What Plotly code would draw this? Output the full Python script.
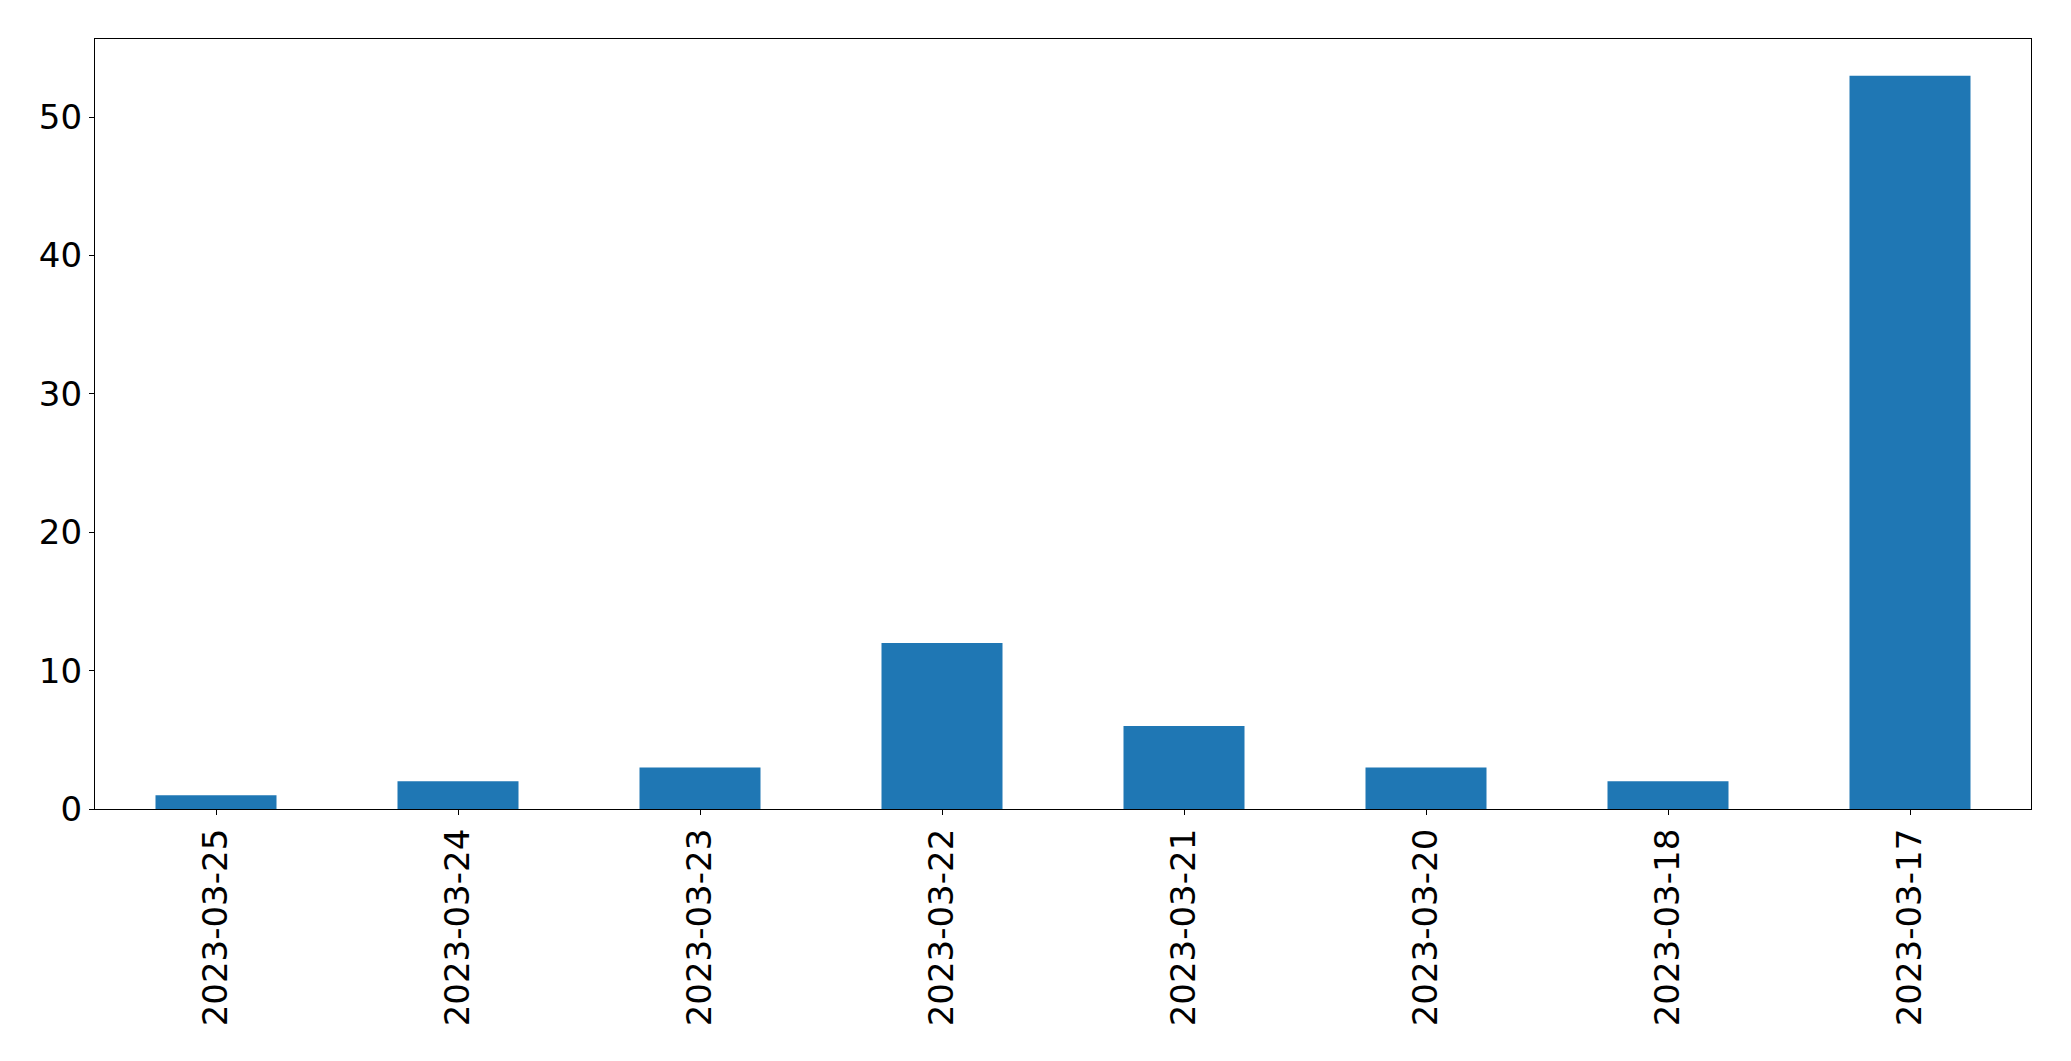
import plotly.graph_objects as go

dates = ["2023-03-25", "2023-03-24", "2023-03-23", "2023-03-22",
         "2023-03-21", "2023-03-20", "2023-03-18", "2023-03-17"]
counts = [1, 2, 3, 12, 6, 3, 2, 53]

fig = go.Figure(go.Bar(x=dates, y=counts, width=0.5,
                       marker=dict(color="#1f77b4", line=dict(width=0))))

font = dict(family="DejaVu Sans", size=34, color="black")
fig.update_layout(
    width=2055, height=1045,
    margin=dict(l=87, r=32, t=31, b=244),
    plot_bgcolor="white", paper_bgcolor="white",
    font=font, showlegend=False,
    xaxis=dict(type="category", range=[-0.5, 7.5], tickangle=-90,
               showline=True, linecolor="black", linewidth=1.3, mirror=True,
               ticks="outside", ticklen=5, tickcolor="black", tickwidth=1.3,
               showgrid=False, zeroline=False, tickfont=font),
    yaxis=dict(range=[0, 55.65], tickvals=[0, 10, 20, 30, 40, 50],
               showline=True, linecolor="black", linewidth=1.3, mirror=True,
               ticks="outside", ticklen=5, tickcolor="black", tickwidth=1.3,
               showgrid=False, zeroline=False, tickfont=font),
)
fig.write_html("out.html")
